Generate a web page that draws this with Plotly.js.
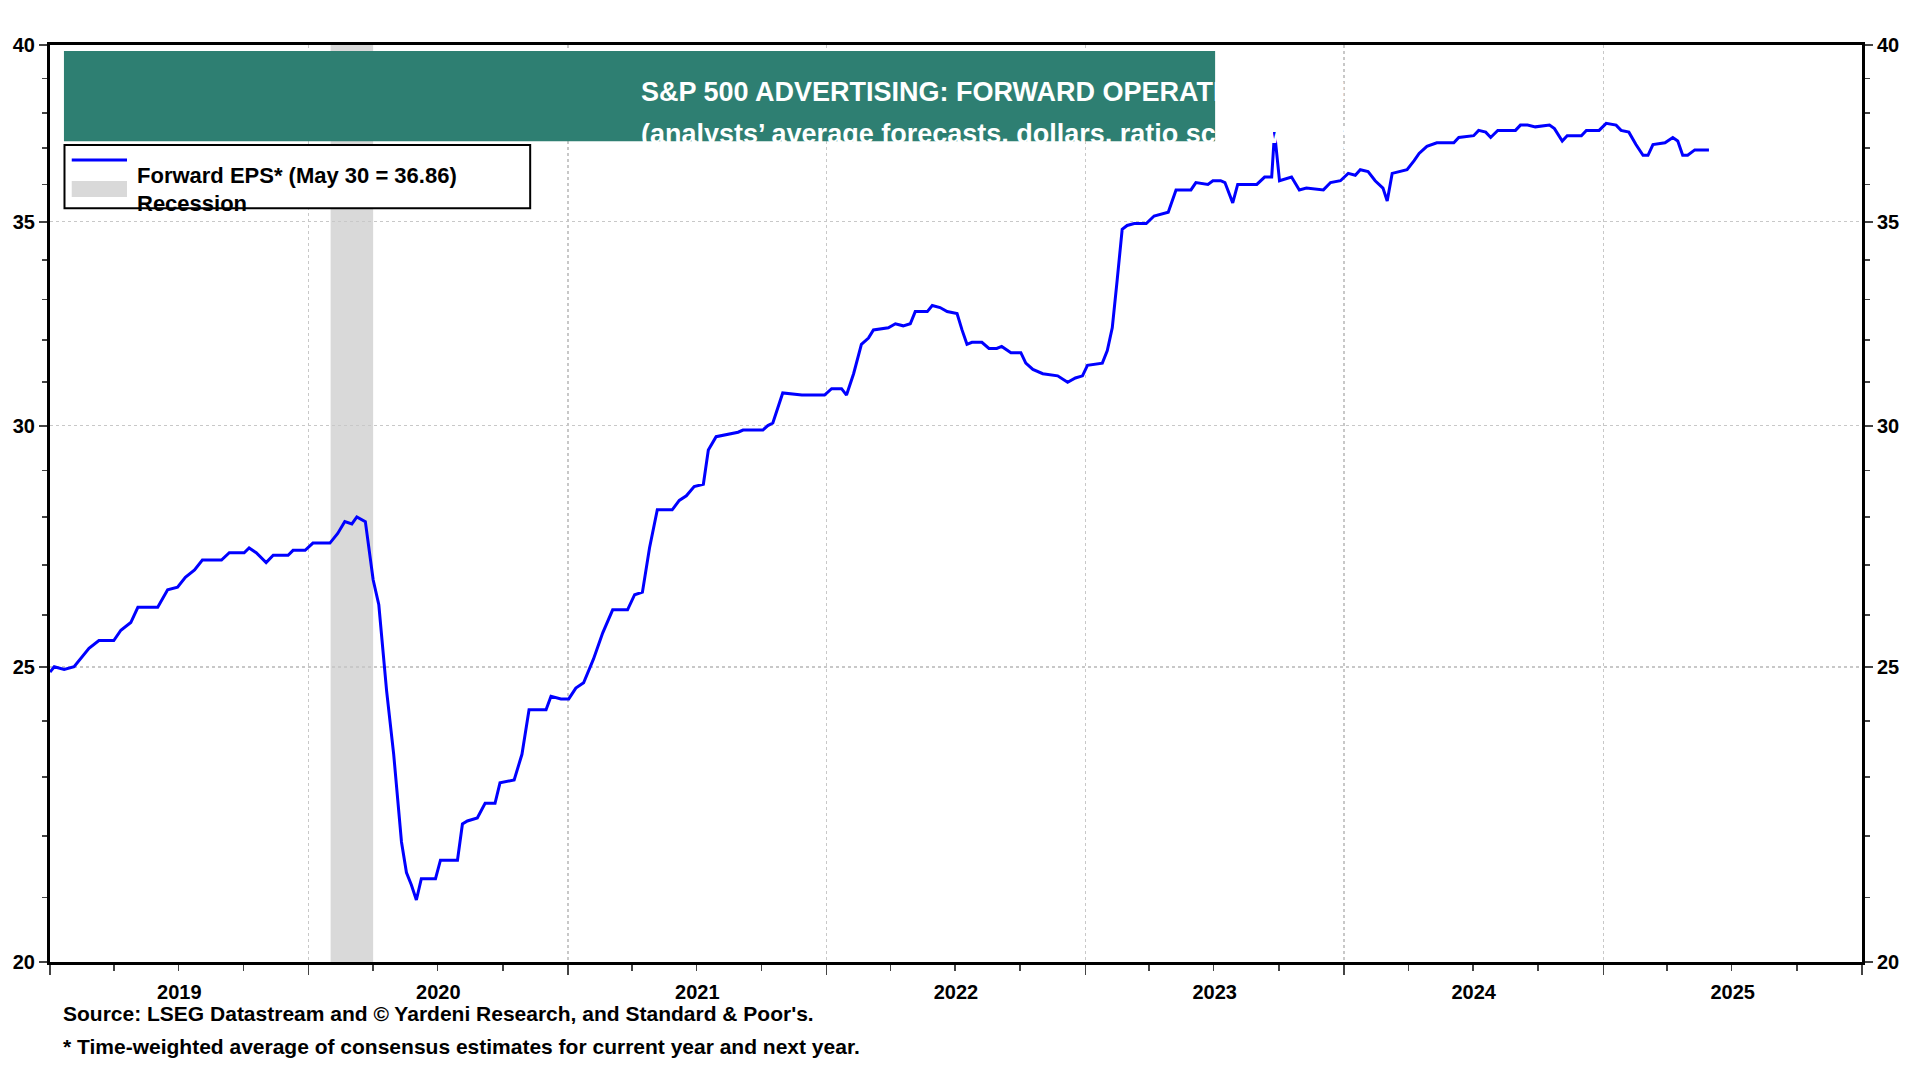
<!DOCTYPE html>
<html><head><meta charset="utf-8">
<script src="https://cdn.plot.ly/plotly-3.0.1.min.js"></script>
<style>body{margin:0;background:#fff}#c{width:1920px;height:1080px}</style>
</head><body><div id="c"></div>
<script>
// decimal years since 2019.0 (weekly series, key points)
const tYears = [0,.019,.057,.095,.152,.190,.247,.276,.314,.342,.418,.456,.494,.523,.561,.589,.665,.694,.751,.770,.798,.836,.865,.922,.941,.988,1.017,1.083,1.112,1.140,1.169,1.188,1.221,1.249,1.273,1.302,1.330,1.359,1.378,1.397,1.416,1.435,1.492,1.511,1.577,1.596,1.615,1.653,1.682,1.720,1.739,1.796,1.824,1.853,1.919,1.938,1.976,2.005,2.033,2.062,2.100,2.138,2.176,2.233,2.261,2.290,2.318,2.347,2.404,2.432,2.461,2.489,2.527,2.546,2.575,2.613,2.660,2.679,2.755,2.774,2.793,2.831,2.907,2.993,3.021,3.059,3.078,3.107,3.135,3.164,3.183,3.240,3.268,3.297,3.325,3.344,3.392,3.411,3.439,3.468,3.506,3.525,3.544,3.563,3.601,3.629,3.658,3.677,3.715,3.753,3.772,3.800,3.838,3.895,3.933,3.962,3.990,4.010,4.067,4.086,4.105,4.124,4.143,4.162,4.190,4.238,4.266,4.323,4.352,4.409,4.428,4.475,4.494,4.523,4.542,4.570,4.589,4.665,4.694,4.722,4.732,4.751,4.798,4.827,4.855,4.922,4.950,4.988,5.017,5.045,5.064,5.093,5.121,5.150,5.169,5.188,5.245,5.273,5.292,5.321,5.359,5.425,5.444,5.501,5.520,5.549,5.568,5.596,5.663,5.682,5.710,5.739,5.796,5.815,5.843,5.862,5.919,5.938,5.986,6.014,6.052,6.071,6.100,6.128,6.157,6.176,6.195,6.242,6.271,6.290,6.309,6.328,6.356,6.410];
const eps = [24.9,25.0,24.95,25.0,25.35,25.5,25.5,25.7,25.85,26.15,26.15,26.5,26.55,26.75,26.9,27.1,27.1,27.25,27.25,27.35,27.25,27.05,27.2,27.2,27.3,27.3,27.45,27.45,27.65,27.9,27.85,28.0,27.9,26.7,26.2,24.55,23.4,21.9,21.4,21.2,20.96,21.3,21.3,21.6,21.6,22.2,22.25,22.3,22.55,22.55,22.9,22.95,23.4,24.2,24.2,24.45,24.4,24.4,24.6,24.7,25.15,25.65,26.1,26.1,26.4,26.45,27.35,28.15,28.15,28.35,28.45,28.65,28.7,29.45,29.75,29.8,29.85,29.9,29.9,30.0,30.06,30.75,30.7,30.7,30.85,30.85,30.7,31.2,31.9,32.05,32.25,32.3,32.4,32.35,32.4,32.7,32.7,32.85,32.8,32.7,32.65,32.25,31.9,31.95,31.95,31.8,31.8,31.85,31.7,31.7,31.45,31.3,31.2,31.15,31.0,31.1,31.15,31.4,31.45,31.75,32.3,33.5,34.8,34.9,34.95,34.95,35.15,35.25,35.85,35.85,36.05,36.0,36.1,36.1,36.05,35.5,36.0,36.0,36.2,36.2,37.45,36.1,36.2,35.85,35.9,35.85,36.05,36.1,36.3,36.25,36.4,36.35,36.1,35.9,35.55,36.3,36.4,36.65,36.85,37.05,37.15,37.15,37.3,37.35,37.5,37.45,37.3,37.5,37.5,37.65,37.65,37.6,37.65,37.55,37.2,37.35,37.35,37.5,37.5,37.7,37.65,37.5,37.45,37.1,36.8,36.8,37.1,37.15,37.3,37.2,36.8,36.8,36.95,36.95,36.86];
const recession = ['2020-02-01','2020-04-01'];
const yTicks = [20,25,30,35,40];
const titleLines = ['S&P 500 ADVERTISING: FORWARD OPERATING EARNINGS PER SHARE','(analysts’ average forecasts, dollars, ratio scale, weekly)'];
const legendLabels = ['Forward EPS* (May 30 = 36.86)','Recession'];
const footnotes = ['Source: LSEG Datastream and © Yardeni Research, and Standard & Poor\'s.','* Time-weighted average of consensus estimates for current year and next year.'];

function toDate(t){const ms=Date.UTC(2019,0,1)+t*365.25*864e5;return new Date(ms).toISOString().slice(0,10);}
const dates = tYears.map(toDate);
const F = 'Liberation Sans, Arial, sans-serif';
const minorY=[];for(let v=20;v<40;v++){if(v%5)minorY.push(v);}
const yax = {type:'log',range:[Math.log10(20),Math.log10(40)],tickvals:yTicks,ticks:'outside',ticklen:8,tickwidth:2,
  showgrid:true,gridcolor:'#c8c8c8',griddash:'dot',gridwidth:1.5,showline:true,linewidth:3,linecolor:'#000',
  tickfont:{family:F,size:20,color:'#000',weight:'bold'},zeroline:false,fixedrange:true,
  minor:{tickvals:minorY,ticks:'outside',ticklen:5,tickwidth:1.5,showgrid:false}};
const data = [
 {x:dates,y:eps,type:'scatter',mode:'lines',line:{color:'#0000ff',width:3},showlegend:false},
 {x:[dates[0]],y:[30],yaxis:'y2',mode:'markers',marker:{opacity:0},showlegend:false,hoverinfo:'skip'}
];
const layout = {
 width:1920,height:1080,margin:{l:50,r:58,t:45,b:118},paper_bgcolor:'#fff',plot_bgcolor:'#fff',showlegend:false,
 xaxis:{type:'date',range:['2019-01-01','2026-01-01'],dtick:'M12',tick0:'2019-01-01',ticklabelmode:'period',tickformat:'%Y',
  ticks:'outside',ticklen:10,tickwidth:1.5,showgrid:true,gridcolor:'#c8c8c8',griddash:'dot',gridwidth:1.5,
  showline:true,mirror:true,linewidth:3,linecolor:'#000',tickfont:{family:F,size:20,color:'#000',weight:'bold'},
  minor:{dtick:'M3',ticks:'outside',ticklen:6,tickwidth:1.5,showgrid:false}},
 yaxis:Object.assign({},yax,{side:'left'}),
 yaxis2:Object.assign({},yax,{overlaying:'y',side:'right',showgrid:false}),
 shapes:[
  {type:'rect',xref:'x',yref:'paper',x0:recession[0],x1:recession[1],y0:0,y1:1,fillcolor:'#d9d9d9',line:{width:0},layer:'below'},
  {type:'rect',xref:'paper',yref:'paper',x0:0.0077,x1:0.643,y0:0.895,y1:0.9935,fillcolor:'#2e7f72',line:{width:0}},
  {type:'rect',xref:'paper',yref:'paper',x0:0.008,x1:0.265,y0:0.822,y1:0.891,fillcolor:'#fff',line:{color:'#000',width:2}},
  {type:'line',xref:'paper',yref:'paper',x0:0.012,x1:0.0425,y0:(962-160)/917,y1:(962-160)/917,line:{color:'#0000ff',width:3}},
  {type:'rect',xref:'paper',yref:'paper',x0:0.012,x1:0.0425,y0:(962-197)/917,y1:(962-181)/917,fillcolor:'#d9d9d9',line:{width:0}}
 ],
 annotations:[
  {xref:'paper',yref:'paper',x:0.325,y:(962-75)/917,text:titleLines[0],showarrow:false,font:{family:F,size:27,color:'#fff',weight:'bold'}},
  {xref:'paper',yref:'paper',x:0.325,y:(962-117)/917,text:titleLines[1],showarrow:false,font:{family:F,size:27,color:'#fff',weight:'bold'}},
  {xref:'paper',yref:'paper',x:0.047,y:(962-161)/917,xanchor:'left',text:legendLabels[0],showarrow:false,font:{family:F,size:22,color:'#000',weight:'bold'}},
  {xref:'paper',yref:'paper',x:0.047,y:(962-189)/917,xanchor:'left',text:legendLabels[1],showarrow:false,font:{family:F,size:22,color:'#000',weight:'bold'}},
  {xref:'paper',yref:'paper',x:(61-50)/1812,y:(962-1027)/917,xanchor:'left',text:footnotes[0],showarrow:false,font:{family:F,size:21,color:'#000',weight:'bold'}},
  {xref:'paper',yref:'paper',x:(61-50)/1812,y:(962-1060)/917,xanchor:'left',text:footnotes[1],showarrow:false,font:{family:F,size:21,color:'#000',weight:'bold'}}
 ]
};
Plotly.newPlot('c',data,layout,{displayModeBar:false,staticPlot:true});
</script></body></html>
